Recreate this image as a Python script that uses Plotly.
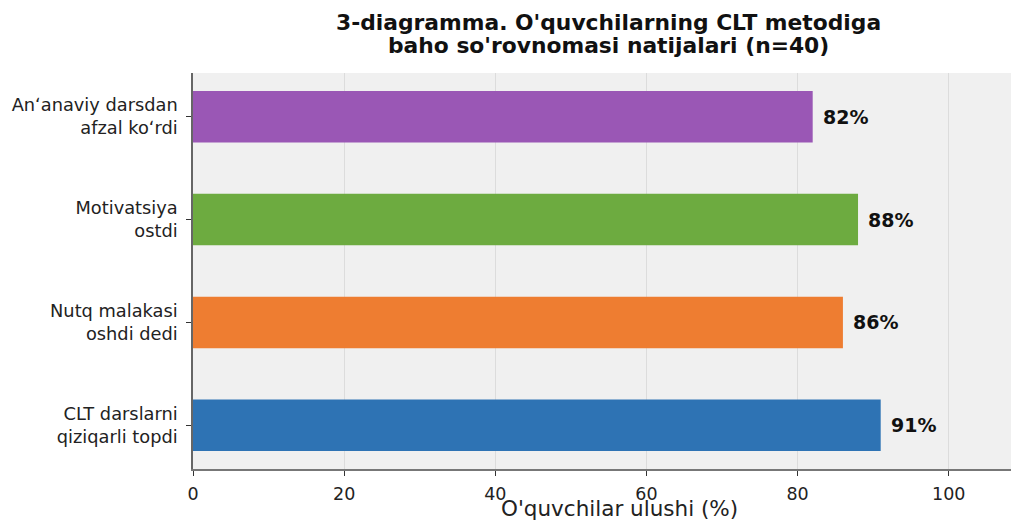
import plotly.graph_objects as go

categories = ["CLT darslarni<br>qiziqarli topdi", "Nutq malakasi<br>oshdi dedi",
              "Motivatsiya<br>ostdi", "Anʻanaviy darsdan<br>afzal koʻrdi"]
values = [91, 86, 88, 82]
colors = ["#2E73B4", "#EE7D31", "#6DAB40", "#9A57B5"]
value_labels = [f"{v}%" for v in values]
x_ticks = [0, 20, 40, 60, 80, 100]
title_lines = ["3-diagramma. O'quvchilarning CLT metodiga",
               "baho so'rovnomasi natijalari (n=40)"]
x_label = "O'quvchilar ulushi (%)"

FONT = "DejaVu Sans"

fig = go.Figure()
fig.add_trace(go.Bar(
    x=values, y=categories, orientation="h",
    marker=dict(color=colors, line=dict(width=0)),
    width=0.5, hoverinfo="skip",
))

annotations = []
for c, v, t in zip(categories, values, value_labels):
    annotations.append(dict(
        x=v, y=c, xref="x", yref="y", text=f"<b>{t}</b>", showarrow=False,
        xanchor="left", yanchor="middle", xshift=8,
        font=dict(family=FONT, size=19, color="#111111"),
    ))

for line, ys in zip(title_lines, [51, 28]):
    annotations.append(dict(
        x=0.503, y=1, xref="paper", yref="paper", text=f"<b>{line}</b>",
        showarrow=False, xanchor="center", yanchor="middle", yshift=ys,
        font=dict(family=FONT, size=21.8, color="#111111"),
    ))

annotations.append(dict(
    x=0.516, y=0, xref="paper", yref="paper", text=x_label, showarrow=False,
    xanchor="center", yanchor="middle", yshift=-39,
    font=dict(family=FONT, size=21.5, color="#222222"),
))

fig.update_layout(
    width=1011, height=518,
    margin=dict(l=185, r=0, t=65, b=57, pad=0),
    paper_bgcolor="white", plot_bgcolor="#F0F0F0",
    showlegend=False,
    font=dict(family=FONT, size=17, color="#222222"),
    annotations=annotations,
)
fig.update_xaxes(
    range=[0, 109.3], tickvals=x_ticks, ticktext=[str(t) for t in x_ticks],
    showgrid=True, gridcolor="#DCDCDC", gridwidth=1, zeroline=False,
    showline=True, linecolor="#777777", linewidth=1.5,
    ticks="outside", ticklen=5, tickcolor="#333333", tickwidth=1,
    ticklabelstandoff=3,
    tickfont=dict(family=FONT, size=17.5, color="#222222"),
)
fig.update_yaxes(
    type="category", range=[-0.425, 3.425],
    showgrid=False, zeroline=False,
    showline=True, linecolor="#666666", linewidth=1.5,
    ticks="outside", ticklen=5, tickcolor="#333333", tickwidth=1,
    ticklabelstandoff=5,
    tickfont=dict(family=FONT, size=17.8, color="#222222"),
)

fig.write_html("out.html")
